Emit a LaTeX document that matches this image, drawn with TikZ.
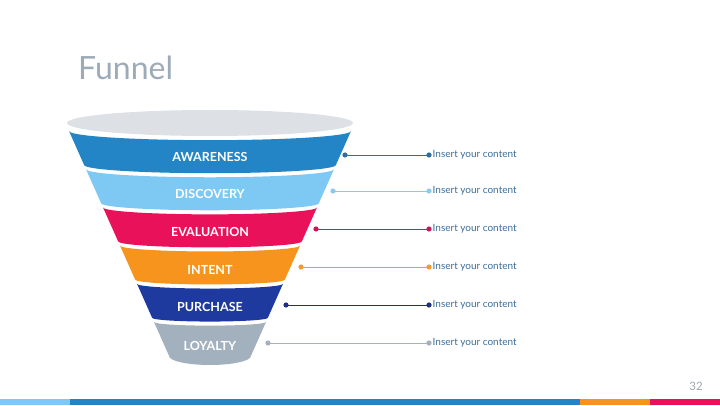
\documentclass[tikz,border=0pt]{standalone}
\usepackage{fontspec}
\setmainfont{Lato}
\definecolor{cAware}{HTML}{2384C6}
\definecolor{cDisc}{HTML}{7EC8F4}
\definecolor{cEval}{HTML}{E8115A}
\definecolor{cIntent}{HTML}{F7941D}
\definecolor{cPurch}{HTML}{1E3A9E}
\definecolor{cLoyal}{HTML}{A3B1BF}
\definecolor{lAware}{HTML}{2F6F9F}
\definecolor{lDisc}{HTML}{8DC9EC}
\definecolor{lEval}{HTML}{C8175D}
\definecolor{lIntent}{HTML}{F29A2E}
\definecolor{lPurch}{HTML}{1E2F84}
\definecolor{lLoyal}{HTML}{A5B0BE}
\definecolor{topgray}{HTML}{DDE0E4}
\definecolor{titlegray}{HTML}{9DABB8}
\definecolor{infoblue}{HTML}{3C6E9B}
\definecolor{numgray}{HTML}{A0A8B0}
\tikzset{
  bandlabel/.style={text=white, font=\bfseries\fontsize{12.5}{14}\selectfont, inner sep=0pt},
  leader/.style={line width=0.8pt},
  infotext/.style={text=infoblue, font=\fontsize{10}{12}\selectfont, inner sep=0pt, anchor=west},
}
\begin{document}
\begin{tikzpicture}[x=1pt,y=1pt]
\useasboundingbox (0,0) rectangle (720,405);
\fill[white] (0,0) rectangle (720,405);
% bottom bar
\fill[cDisc] (0,0) rectangle (70,6.5);
\fill[cAware] (70,0) rectangle (580,6.5);
\fill[cIntent] (580,0) rectangle (650,6.5);
\fill[cEval] (650,0) rectangle (720,6.5);
\node[anchor=base east, text=numgray, font=\fontsize{11.5}{13}\selectfont, inner sep=0pt] (pnum) at (703,405-390) {32};
% title
\node[anchor=base west, text=titlegray, font=\fontsize{32}{36}\selectfont, inner sep=0pt] (title) at (78,405-80) {Funnel};
% top ellipse
\fill[topgray] (210,405-123) ellipse[x radius=143pt, y radius=13pt];
% bands
\foreach \i/\col/\lab/\ty/\lcol/\ly/\lx in {
  0/cAware/AWARENESS/157/lAware/155/345,
  1/cDisc/DISCOVERY/194/lDisc/191/333,
  2/cEval/EVALUATION/232/lEval/229/316,
  3/cIntent/INTENT/270/lIntent/267/301,
  4/cPurch/PURCHASE/307/lPurch/305/286,
  5/cLoyal/LOYALTY/346/lLoyal/343/268}{
  \pgfmathsetmacro{\t}{131+38.2*\i}
  \pgfmathsetmacro{\b}{\t+34}
  \pgfmathsetmacro{\hwt}{141-0.445*(\t-131)}
  \pgfmathsetmacro{\hwb}{141-0.445*(\b-131)}
  \pgfmathsetmacro{\sagt}{0.065*\hwt}
  \pgfmathsetmacro{\sagb}{\i==5 ? 9 : 0.065*\hwb}
  \pgfmathsetmacro{\Yt}{405-\t}
  \pgfmathsetmacro{\Yb}{405-\b}
  \fill[\col] ({210-\hwt},\Yt) -- ({210-\hwb},\Yb)
     arc[start angle=180, end angle=360, x radius=\hwb pt, y radius=\sagb pt]
     -- ({210+\hwt},\Yt)
     arc[start angle=0, end angle=-180, x radius=\hwt pt, y radius=\sagt pt] -- cycle;
  \node[bandlabel] (lab\i) at (210,405-\ty) {\lab};
  \coordinate (l\i) at (\lx,405-\ly);
  \coordinate (r\i) at (429,405-\ly);
  \draw[leader, draw=\lcol] (l\i) -- (r\i);
  \fill[\lcol] (l\i) circle (2.6pt);
  \fill[\lcol] (r\i) circle (2.6pt);
  \node[infotext] (t\i) at ([xshift=3.5pt]r\i) {Insert your content};
}
\end{tikzpicture}
\end{document}
